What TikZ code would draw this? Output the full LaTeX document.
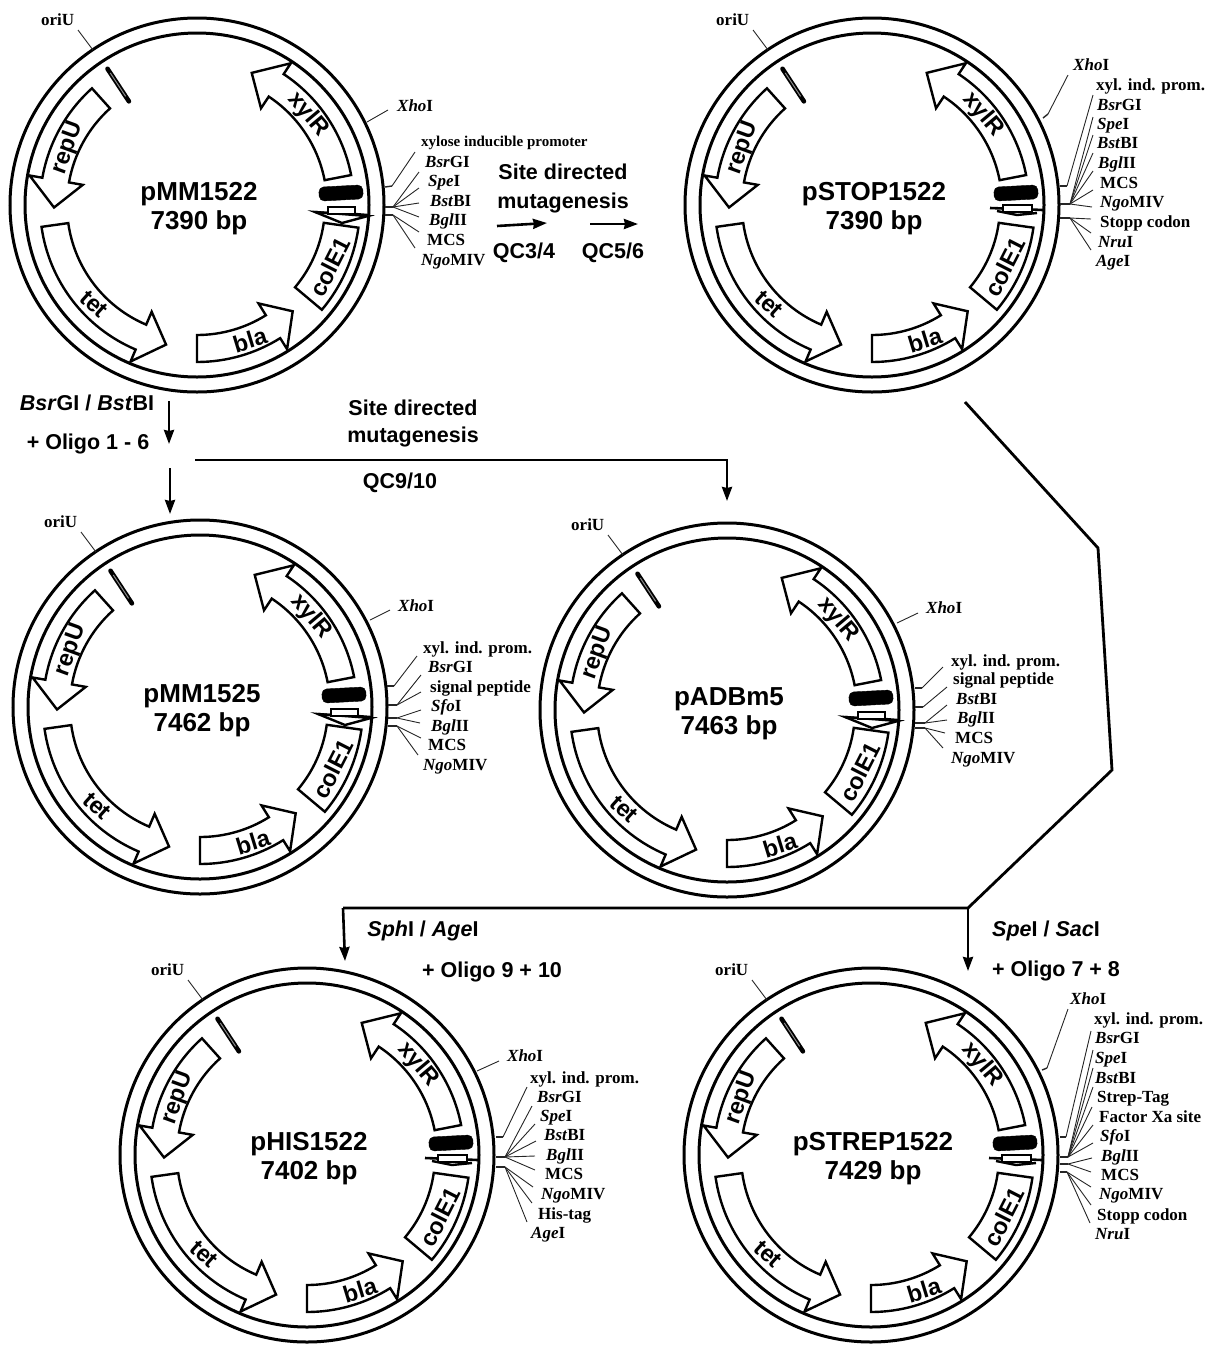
\documentclass[tikz,border=0pt]{standalone}
\usepackage{fontspec}
\setmainfont{Liberation Serif}
\setsansfont{Liberation Sans}
\usetikzlibrary{arrows.meta}
\tikzset{
    ring/.style={line width=3pt},
    genebox/.style={draw, fill=white, line width=2.4pt, line join=miter},
    gene/.style={font=\sffamily\bfseries\fontsize{23.5}{25}\selectfont, inner sep=0pt},
    title/.style={font=\sffamily\bfseries\fontsize{26}{29}\selectfont, align=center, inner sep=0pt},
    sitetext/.style={anchor=west, font=\bfseries\fontsize{17}{18}\selectfont, text height=11pt, text depth=0pt, inner sep=0pt},
    leader/.style={line width=0.9pt, black!85},
    flowline/.style={line width=2.8pt},
    flow/.style={line width=2.6pt, -{Stealth[length=14pt,width=10pt,inset=1pt]}},
    note/.style={font=\sffamily\bfseries\fontsize{21.5}{27}\selectfont, align=center, inner sep=0pt}
}
\newcommand{\enz}[2]{\textit{#1}#2}
% one labelled site: name, label position, text, end of leader, start of leader
\newcommand{\site}[5]{%
    \node[sitetext] (#1) at (#2) {#3};
    \coordinate (#1-end) at (#4);
    \draw[leader] (#5) -- (#1-end);
}
% stub leaving the ring
\newcommand{\fan}[3]{%
    \coordinate (#1-r) at (#2);
    \coordinate (#1) at (#3);
    \draw[leader, line width=1.4pt] (#1-r) -- (#1);
}
\newcommand{\genearrow}[3]{%
    \draw[genebox] (#1:157) arc[start angle=#1, end angle=#2, radius=157]
        -- (#2:170) -- (#3:143) -- (#2:116) -- (#2:130)
        arc[start angle=#2, end angle=#1, radius=130] -- cycle;
}
\newcommand{\promdown}{%
    \draw[genebox] (118,-7) -- (145,-18) -- (171,-11) -- cycle;
    \draw[genebox] (131,-2) rectangle (158,-9);
    \draw[line width=2.4pt] (118,-7) -- (131,-8);
    \draw[line width=2.4pt] (158,-9) -- (171,-10);
}
\newcommand{\promflat}{%
    \draw[line width=2.4pt] (125,-6) -- (145,-10) -- (165,-8);
    \draw[line width=2.6pt] (118,-3) -- (171,-5);
    \draw[genebox, line width=1.8pt] (131,0) rectangle (160,-7);
}
\newcommand{\plasmid}[6]{%
\begin{scope}[shift={(#2,#3)}, y=1pt]
    \draw[ring] (0,0) circle[radius=187];
    \draw[ring] (0,0) circle[radius=172];
    \genearrow{11}{56.5}{67.5}
    \genearrow{132}{170}{181}
    \genearrow{188}{247}{257.5}
    \genearrow{270}{302}{312}
    \draw[genebox] (320:128) -- (320:163) arc[start angle=320, end angle=352, radius=163]
        -- (352:128) arc[start angle=352, end angle=320, radius=128] -- cycle;
    \draw[line width=4.6pt, line cap=round] (123.3:124) -- (123.3:163);
    \draw[line width=1pt, black!45] (123.3:130) -- (123.3:158);
    \draw[fill=black, rounded corners=5pt, rotate around={3:(144,12)}] (122,5) rectangle (166,19);
    #6
    \node[gene, rotate=-50] (#1-xyl) at (111,90) {xylR};
    \node[gene, rotate=70] (#1-rep) at (-129,57) {repU};
    \node[gene, rotate=-42] (#1-tet) at (-103,-99) {tet};
    \node[gene, rotate=17] (#1-bla) at (53,-135) {bla};
    \node[gene, rotate=63] (#1-col) at (133,-62) {colE1};
    \node[title] (#1-name) at (2,-4) {#4\\#5};
    \coordinate (#1-orir) at (-104,155);
    \site{#1-ori}{-156,185}{oriU}{-119,175}{#1-orir}
\end{scope}
}
\begin{document}
\begin{tikzpicture}[x=1pt, y=-1pt]
\useasboundingbox (0,0) rectangle (1214,1345);

% pMM1522
\plasmid{mma}{197}{205}{pMM1522}{7390 bp}{\promdown}
\coordinate (mma-xr) at (367,122);
\fan{mma-pr}{385,187}{392,186}
\fan{mma-up}{385,207}{393,207}
\fan{mma-lo}{385,215}{393,215}
\site{mma-xho}{397,106}{\enz{Xho}{I}}{388,110}{mma-xr}
\site{mma-xyl}{421,141}{\fontsize{15}{16}\selectfont xylose inducible promoter}{415,152}{mma-pr}
\site{mma-bsr}{425,162}{\enz{Bsr}{GI}}{419,172}{mma-up}
\site{mma-spe}{428,181}{\enz{Spe}{I}}{419,188}{mma-up}
\site{mma-bst}{430,201}{\enz{Bst}{BI}}{419,203}{mma-up}
\site{mma-bgl}{429,220}{\enz{Bgl}{II}}{419,217}{mma-up}
\site{mma-mcs}{427,240}{MCS}{419,232}{mma-lo}
\site{mma-ngo}{421,260}{\enz{Ngo}{MIV}}{415,248}{mma-lo}

% pSTOP1522
\plasmid{stp}{872}{205}{pSTOP1522}{7390 bp}{\promflat}
\fan{stp-xr}{1043,118}{1048,114}
\fan{stp-pr}{1060,186}{1067,186}
\fan{stp-up}{1060,204}{1070,204}
\fan{stp-lo}{1060,218}{1070,218}
\site{stp-xho}{1073,65}{\enz{Xho}{I}}{1068,75}{stp-xr}
\site{stp-xyl}{1096,85}{xyl. ind. prom.}{1093,95}{stp-pr}
\site{stp-bsr}{1097,105}{\enz{Bsr}{GI}}{1093,117}{stp-up}
\site{stp-spe}{1097,124}{\enz{Spe}{I}}{1093,135}{stp-up}
\site{stp-bst}{1097,143}{\enz{Bst}{BI}}{1093,153}{stp-up}
\site{stp-bgl}{1098,163}{\enz{Bgl}{II}}{1093,171}{stp-up}
\site{stp-mcs}{1100,183}{MCS}{1093,190}{stp-up}
\site{stp-ngo}{1100,202}{\enz{Ngo}{MIV}}{1092,207}{stp-up}
\site{stp-stop}{1100,222}{Stopp codon}{1091,219}{stp-lo}
\site{stp-nru}{1098,242}{\enz{Nru}{I}}{1091,233}{stp-lo}
\site{stp-age}{1096,261}{\enz{Age}{I}}{1091,250}{stp-lo}

% pMM1525
\plasmid{mmb}{200}{707}{pMM1525}{7462 bp}{\promdown}
\coordinate (mmb-xr) at (370,620);
\fan{mmb-pr}{387,686}{394,686}
\fan{mmb-up}{388,705}{397,705}
\fan{mmb-mid}{388,718}{397,718}
\fan{mmb-lo}{388,726}{397,726}
\site{mmb-xho}{398,606}{\enz{Xho}{I}}{390,610}{mmb-xr}
\site{mmb-xyl}{423,648}{xyl. ind. prom.}{417,656}{mmb-pr}
\site{mmb-bsr}{428,667}{\enz{Bsr}{GI}}{421,675}{mmb-up}
\site{mmb-sig}{430,687}{signal peptide}{421,692}{mmb-up}
\site{mmb-sfo}{431,706}{\enz{Sfo}{I}}{421,710}{mmb-mid}
\site{mmb-bgl}{431,726}{\enz{Bgl}{II}}{420,723}{mmb-mid}
\site{mmb-mcs}{428,745}{MCS}{421,738}{mmb-lo}
\site{mmb-ngo}{423,765}{\enz{Ngo}{MIV}}{418,755}{mmb-lo}

% pADBm5
\plasmid{adb}{727}{710}{pADBm5}{7463 bp}{\promdown}
\coordinate (adb-xr) at (897,623);
\fan{adb-pr}{915,688}{922,688}
\fan{adb-sp}{915,707}{923,707}
\fan{adb-up}{915,723}{925,723}
\fan{adb-lo}{915,728}{925,728}
\site{adb-xho}{926,608}{\enz{Xho}{I}}{918,613}{adb-xr}
\site{adb-xyl}{951,661}{xyl. ind. prom.}{943,667}{adb-pr}
\site{adb-sig}{953,679}{signal peptide}{947,687}{adb-sp}
\site{adb-bst}{956,699}{\enz{Bst}{BI}}{947,705}{adb-up}
\site{adb-bgl}{957,718}{\enz{Bgl}{II}}{947,720}{adb-up}
\site{adb-mcs}{955,738}{MCS}{945,733}{adb-lo}
\site{adb-ngo}{951,758}{\enz{Ngo}{MIV}}{943,748}{adb-lo}

% pHIS1522
\plasmid{his}{307}{1155}{pHIS1522}{7402 bp}{\promflat}
\coordinate (his-xr) at (477,1071);
\fan{his-pr}{496,1137}{503,1137}
\fan{his-up}{496,1157}{505,1157}
\fan{his-lo}{496,1167}{505,1167}
\site{his-xho}{507,1056}{\enz{Xho}{I}}{499,1061}{his-xr}
\site{his-xyl}{530,1078}{xyl. ind. prom.}{527,1087}{his-pr}
\site{his-bsr}{537,1097}{\enz{Bsr}{GI}}{532,1106}{his-up}
\site{his-spe}{540,1116}{\enz{Spe}{I}}{535,1124}{his-up}
\site{his-bst}{544,1135}{\enz{Bst}{BI}}{536,1141}{his-up}
\site{his-bgl}{546,1155}{\enz{Bgl}{II}}{535,1156}{his-up}
\site{his-mcs}{545,1174}{MCS}{535,1170}{his-up}
\site{his-ngo}{541,1194}{\enz{Ngo}{MIV}}{533,1187}{his-lo}
\site{his-tag}{538,1214}{His-tag}{532,1203}{his-lo}
\site{his-age}{531,1233}{\enz{Age}{I}}{527,1222}{his-lo}

% pSTREP1522
\plasmid{str}{871}{1155}{pSTREP1522}{7429 bp}{\promflat}
\fan{str-xr}{1042,1070}{1047,1068}
\fan{str-pr}{1060,1137}{1066,1137}
\fan{str-up}{1060,1157}{1068,1157}
\fan{str-mid}{1060,1164}{1068,1164}
\fan{str-lo}{1060,1172}{1067,1172}
\site{str-xho}{1070,999}{\enz{Xho}{I}}{1068,1009}{str-xr}
\site{str-xyl}{1094,1019}{xyl. ind. prom.}{1091,1031}{str-pr}
\site{str-bsr}{1095,1038}{\enz{Bsr}{GI}}{1093,1050}{str-up}
\site{str-spe}{1095,1058}{\enz{Spe}{I}}{1093,1068}{str-up}
\site{str-bst}{1095,1078}{\enz{Bst}{BI}}{1093,1087}{str-up}
\site{str-tag}{1097,1097}{Strep-Tag}{1092,1107}{str-up}
\site{str-fac}{1099,1117}{Factor Xa site}{1093,1125}{str-up}
\site{str-sfo}{1100,1136}{\enz{Sfo}{I}}{1093,1143}{str-up}
\site{str-bgl}{1101,1156}{\enz{Bgl}{II}}{1092,1158}{str-mid}
\site{str-mcs}{1101,1175}{MCS}{1091,1172}{str-mid}
\site{str-ngo}{1099,1194}{\enz{Ngo}{MIV}}{1091,1187}{str-lo}
\site{str-stop}{1097,1215}{Stopp codon}{1091,1205}{str-lo}
\site{str-nru}{1095,1234}{\enz{Nru}{I}}{1090,1223}{str-lo}

% cloning steps
\node[note] (qc-head) at (563,188) {Site directed\\[2pt]mutagenesis};
\node[note] (qc34) at (524,253) {QC3/4};
\node[note] (qc56) at (613,253) {QC5/6};
\coordinate (qc-a) at (497,226);
\coordinate (qc-b) at (547,223);
\coordinate (qc-c) at (590,224);
\coordinate (qc-d) at (638,224);
\draw[flow] (qc-a) -- (qc-b);
\draw[flow] (qc-c) -- (qc-d);

\node[note] (cut-a) at (87,403) {\enz{Bsr}{GI} / \enz{Bst}{BI}};
\node[note] (olig-a) at (88,444) {+ Oligo 1 - 6};
\node[note] (sd-head) at (413,423) {Site directed\\mutagenesis};
\node[note] (qc910) at (400,483) {QC9/10};
\coordinate (ins-a) at (169,401);
\coordinate (ins-b) at (169,444);
\coordinate (ins-c) at (170,468);
\coordinate (ins-d) at (170,514);
\coordinate (sd-a) at (195,460);
\coordinate (sd-b) at (727,460);
\coordinate (sd-c) at (727,501);
\draw[flow] (ins-a) -- (ins-b);
\draw[flow] (ins-c) -- (ins-d);
\draw[flow] (sd-a) -- (sd-b) -- (sd-c);

\node[note] (cut-b) at (423,931) {\enz{Sph}{I} / \enz{Age}{I}};
\node[note] (olig-b) at (492,972) {+ Oligo 9 + 10};
\node[note] (cut-c) at (1046,931) {\enz{Spe}{I} / \enz{Sac}{I}};
\node[note] (olig-c) at (1056,971) {+ Oligo 7 + 8};
\coordinate (bk-a) at (965,402);
\coordinate (bk-b) at (1098,548);
\coordinate (bk-c) at (1112,770);
\coordinate (bk-d) at (968,908);
\coordinate (bk-e) at (343,908);
\coordinate (bk-f) at (345,961);
\coordinate (bk-g) at (968,971);
\draw[flowline] (bk-a) -- (bk-b) -- (bk-c) -- (bk-d) -- (bk-e);
\draw[flow] (bk-e) -- (bk-f);
\draw[flow] (bk-d) -- (bk-g);
\end{tikzpicture}
\end{document}
